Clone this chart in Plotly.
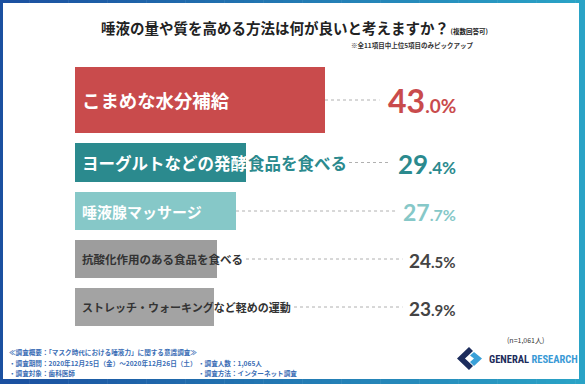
import plotly.graph_objects as go

# ---------------- data ----------------
categories = ["こまめな水分補給", "ヨーグルトなどの発酵食品を食べる", "唾液腺マッサージ",
              "抗酸化作用のある食品を食べる", "ストレッチ・ウォーキングなど軽めの運動"]
values = [43.0, 29.4, 27.7, 24.5, 23.9]
title_text = "唾液の量や質を高める方法は何が良いと考えますか？"
title_note = "(複数回答可)"
subtitle_text = "※全11項目中上位5項目のみピックアップ"
n_text = "(n=1,061人)"
footer_left = ["≪調査概要：「マスク時代における唾液力」に関する意識調査≫",
               "・調査期間：2020年12月25日（金）〜2020年12月26日（土）",
               "・調査対象：歯科医師"]
footer_right = ["・調査人数：1,065人", "・調査方法：インターネット調査"]
brand = ["GENERAL", "RESEARCH"]

# ---------------- style ----------------
W, H = 585, 384
bar_colors = ["#c94b4c", "#2b8a8e", "#86c8c8", "#9d9d9d", "#a3a3a3"]
value_colors = ["#c94b4c", "#2b8a8e", "#86c8c8", "#444444", "#444444"]
label_colors = ["#ffffff", "#ffffff", "#ffffff", "#333333", "#333333"]
label_sizes = [18.4, 16.5, 15, 11.5, 11]
big_sizes = [32, 26, 23, 19, 19]
small_sizes = [19, 17, 16, 15, 15]
thick_px = [66, 39, 38, 38, 38]
gap_px = 10
plot_left, plot_top = 75, 67
px_per_unit = 250 / 43.0
value_right_px = 458
JP = "Noto Sans CJK JP"
NUM = "Lato"

total_px = sum(thick_px) + gap_px * (len(thick_px) - 1)
plot_bottom = plot_top + total_px
centers = []
acc = 0
for t in thick_px:
    centers.append(acc + t / 2)
    acc += t + gap_px

x_range = (W - plot_left) / px_per_unit


def px2data(px):
    return (px - plot_left) / px_per_unit


def px(x):
    return x / W


def py(y):
    return 1 - y / H


fig = go.Figure()
fig.add_trace(go.Bar(
    orientation="h", x=values, y=centers, width=thick_px,
    marker=dict(color=bar_colors, line=dict(width=0)),
    hoverinfo="skip", showlegend=False,
))

annotations = []
shapes = []

for i, (cat, v) in enumerate(zip(categories, values)):
    fs = label_sizes[i]
    if i == 1:
        # part inside bar white, rest teal
        n_in = 10
        annotations.append(dict(x=0, y=centers[i], xref="x", yref="y", xanchor="left",
                                xshift=5, yanchor="middle", showarrow=False,
                                text=cat[:n_in], font=dict(family=JP, size=fs, color="#ffffff", weight=700)))
        annotations.append(dict(x=v, y=centers[i], xref="x", yref="y", xanchor="left",
                                yanchor="middle", showarrow=False,
                                text=cat[n_in:], font=dict(family=JP, size=fs, color=bar_colors[1], weight=700)))
    else:
        annotations.append(dict(x=0, y=centers[i], xref="x", yref="y", xanchor="left",
                                xshift=5, yanchor="middle", showarrow=False,
                                text=cat, font=dict(family=JP, size=fs, color=label_colors[i], weight=700)))
    ip, dp = f"{v:.1f}".split(".")
    txt = (f'<span style="font-size:{big_sizes[i]}px">{ip}</span>'
           f'<span style="font-size:{small_sizes[i]}px">.{dp}%</span>')
    annotations.append(dict(x=px(value_right_px), y=centers[i], xref="paper", yref="y",
                            xanchor="right", yanchor="middle", showarrow=False, yshift=-1,
                            text=txt, font=dict(family=NUM, size=big_sizes[i], color=value_colors[i], weight=700)))
    # leader line
    label_end_px = plot_left + 5 + len(cat) * fs
    bar_end_px = plot_left + v * px_per_unit
    start_px = max(label_end_px + 5, bar_end_px)
    val_w = 2 * 0.6 * big_sizes[i] + 1.85 * small_sizes[i]
    end_px = value_right_px - val_w - 5
    shapes.append(dict(type="line", xref="x", yref="y", x0=px2data(start_px), x1=px2data(end_px),
                       y0=centers[i], y1=centers[i], line=dict(color="#b0b0b0", width=1, dash="dot")))

# title
annotations.append(dict(x=px(294), y=py(28), xref="paper", yref="paper", xanchor="center", yanchor="middle",
                        showarrow=False,
                        text=f'{title_text}<span style="font-size:6.5px"> {title_note}</span>',
                        font=dict(family=JP, size=14.5, color="#222222", weight=700)))
annotations.append(dict(x=px(476), y=py(45), xref="paper", yref="paper", xanchor="right", yanchor="middle",
                        showarrow=False, text=subtitle_text,
                        font=dict(family=JP, size=6.5, color="#333333", weight=700)))
annotations.append(dict(x=px(546), y=py(340), xref="paper", yref="paper", xanchor="right", yanchor="middle",
                        showarrow=False, text=n_text,
                        font=dict(family=JP, size=7, color="#333333")))
for j, t in enumerate(footer_left):
    annotations.append(dict(x=px(7), y=py(352 + j * 10.5), xref="paper", yref="paper", xanchor="left",
                            yanchor="middle", showarrow=False, text=t,
                            font=dict(family=JP, size=6.6, color="#3a6db5", weight=700)))
for j, t in enumerate(footer_right):
    annotations.append(dict(x=px(196), y=py(362.5 + j * 10.5), xref="paper", yref="paper", xanchor="left",
                            yanchor="middle", showarrow=False, text=t,
                            font=dict(family=JP, size=6.6, color="#3a6db5", weight=700)))
annotations.append(dict(x=px(487), y=py(359), xref="paper", yref="paper", xanchor="left", yanchor="middle",
                        showarrow=False,
                        text=f'<span style="color:#1c2c5c">{brand[0]}</span> <span style="color:#3a9ad6">{brand[1]}</span>',
                        font=dict(family="Roboto Condensed, DejaVu Sans Condensed, Roboto, sans-serif",
                                  size=10.5, weight=700)))


# logo icon
def poly(points, color):
    d = "M " + " L ".join(f"{px(a):.5f},{py(b):.5f}" for a, b in points) + " Z"
    return dict(type="path", xref="paper", yref="paper", path=d, fillcolor=color, line=dict(width=0))


shapes.append(poly([(469, 347), (457, 358.5), (469, 370), (473, 366), (465, 358.5), (473, 351)], "#1c2c5c"))
shapes.append(poly([(474, 352), (482, 358.5), (474, 366), (470, 362), (474, 358.5), (470, 355.5)], "#3aa0d8"))

# gradient frame
c0 = (27, 80, 160)
c1 = (42, 163, 198)
N = 60
for k in range(N):
    f = k / (N - 1)
    col = "rgb({},{},{})".format(*[round(c0[m] + (c1[m] - c0[m]) * f) for m in range(3)])
    xa, xb = W * k / N, W * (k + 1) / N + 0.5
    shapes.append(dict(type="rect", xref="paper", yref="paper", x0=px(xa), x1=px(xb), y0=py(0), y1=py(3),
                       fillcolor=col, line=dict(width=0), layer="above"))
    shapes.append(dict(type="rect", xref="paper", yref="paper", x0=px(xa), x1=px(xb), y0=py(379), y1=py(384),
                       fillcolor=col, line=dict(width=0), layer="above"))
shapes.append(dict(type="rect", xref="paper", yref="paper", x0=0, x1=px(3), y0=0, y1=1,
                   fillcolor="rgb(27,80,160)", line=dict(width=0), layer="above"))
shapes.append(dict(type="rect", xref="paper", yref="paper", x0=px(579), x1=1, y0=0, y1=1,
                   fillcolor="rgb(42,163,198)", line=dict(width=0), layer="above"))

fig.update_layout(
    width=W, height=H, margin=dict(l=0, r=0, t=0, b=0),
    paper_bgcolor="white", plot_bgcolor="white",
    xaxis=dict(domain=[px(plot_left), 1], range=[0, x_range], visible=False, fixedrange=True),
    yaxis=dict(domain=[py(plot_bottom), py(plot_top)], range=[total_px, 0], visible=False, fixedrange=True),
    annotations=annotations, shapes=shapes, bargap=0, showlegend=False,
)
fig.write_html("out.html", config={"displayModeBar": False},
               post_script="document.body.style.margin='0';document.body.style.overflow='hidden';")
